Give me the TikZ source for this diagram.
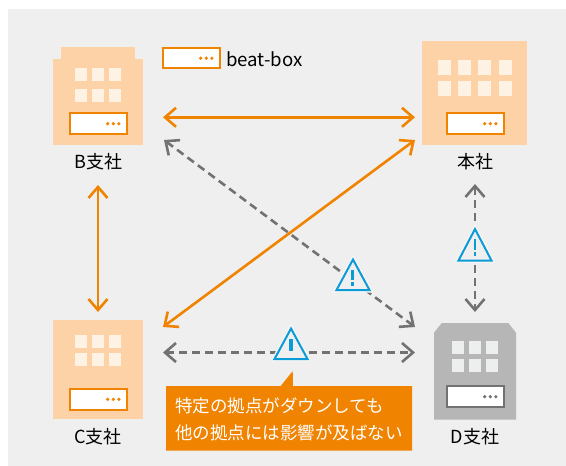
\documentclass[tikz,border=0pt]{standalone}
\usepackage{fontspec}
\setmainfont{Noto Sans CJK JP}
\usetikzlibrary{arrows.meta,calc}
\definecolor{bgc}{HTML}{EFEFEF}
\definecolor{org}{HTML}{F08300}
\definecolor{peach}{HTML}{FDD2A6}
\definecolor{winp}{HTML}{FEF2E5}
\definecolor{gbld}{HTML}{B5B6B5}
\definecolor{wing}{HTML}{EDEFEE}
\definecolor{dgray}{HTML}{727272}
\definecolor{blu}{HTML}{0B9BD7}
\tikzset{
  x=1pt,y=-1pt,
  bld/.style={fill=#1,draw=none,inner sep=0pt,outer sep=0pt},
  lbl/.style={font=\fontsize{18}{20}\selectfont,text=black,inner sep=0pt},
  srv/.style={draw=#1,fill=white,line width=2pt,minimum width=57pt,minimum height=20.5pt,inner sep=0pt},
  solidarrow/.style={draw=org,line width=2.6pt,{Straight Barb[length=11pt,width=19pt]}-{Straight Barb[length=11pt,width=19pt]}},
  dasharrow/.style={draw=dgray,line width=2.6pt,dash pattern=on 8pt off 5pt,{Straight Barb[length=11pt,width=19pt]}-{Straight Barb[length=11pt,width=19pt]}},
  warn/.style={draw=blu,fill=bgc,line width=2pt,line join=miter},
  halo/.style={draw=bgc!60!white,line width=5pt,line join=miter},
  calltext/.style={anchor=west,inner sep=0pt,text=white,font=\fontsize{17.5}{20}\selectfont},
}
\newcommand{\srvbox}[4]{% name, cx, cy, colour
  \node[srv=#4] (#1) at (#2,#3) {};
  \foreach \dx in {-5.6,0,5.6} \fill[#4] ($(#1.center)+(15.3+\dx,0)$) circle (1.8pt);
}
\newcommand{\winrow}[5]{% colour, y top, height, width, x list
  \foreach \wx in {#5} \fill[#1] (\wx,#2) rectangle ++(#4,#3);
}
\newcommand{\warnsign}[5]{% name, apex x, apex y, half width, height
  \coordinate (#1) at (#2,#3);
  \path[halo] (#2,#3) -- ++(-#4,#5) -- ++(2*#4,0) -- cycle;
  \path[warn] (#2,#3) -- ++(-#4,#5) -- ++(2*#4,0) -- cycle;
}
\begin{document}
\begin{tikzpicture}
\useasboundingbox (0,0) rectangle (566,466);
\fill[bgc] (8,9) rectangle (566,466);

% B
\fill[peach] (61,46.7) rectangle (135,60);
\node[bld=peach,minimum width=90pt,minimum height=86pt] (B) at (98,102) {};
\winrow{winp}{68}{13}{12}{75,92,109}
\winrow{winp}{89}{13}{12}{75,92,109}
\srvbox{boxB}{98}{123.7}{org}
\node[lbl] (labB) at (98.5,162) {B支社};

% A (headquarters)
\node[bld=peach,minimum width=105pt,minimum height=104pt] (A) at (474.5,93) {};
\winrow{winp}{60}{15}{13}{438,458,478,499}
\winrow{winp}{81}{15}{13}{438,458,478,499}
\srvbox{boxA}{475}{123.7}{org}
\node[lbl] (labA) at (475,162) {本社};

% C
\node[bld=peach,minimum width=90pt,minimum height=99pt] (C) at (98,369.5) {};
\winrow{winp}{335}{13}{12}{75,92,109}
\winrow{winp}{353}{13}{12}{75,92,109}
\srvbox{boxC}{98}{399.3}{org}
\node[lbl] (labC) at (98,437) {C支社};

% D
\fill[gbld] (441.7,323) -- (508.3,323) -- (516,332.7) -- (516,419.7) -- (434,419.7) -- (434,332.7) -- cycle;
\coordinate (D) at (475,371);
\winrow{wing}{341}{13}{12}{452,469,486}
\winrow{wing}{359}{13}{12}{452,469,486}
\srvbox{boxD}{475}{396.7}{dgray}
\node[lbl] (labD) at (475,437) {D支社};

% Legend
\srvbox{boxL}{191}{58.2}{org}
\node[lbl,anchor=west,font=\fontsize{18.6}{20}\selectfont] (labL) at (226,59) {beat-box};

% Connector ends
\coordinate (pBe) at (163,117.3);
\coordinate (pAw) at (415,117.3);
\coordinate (pBs) at (98,185);
\coordinate (pCn) at (98,312);
\coordinate (pCne) at (163,327);
\coordinate (pAsw) at (415,140);
\coordinate (pBse) at (164,140);
\coordinate (pDnw) at (415,327);
\coordinate (pCe) at (163,352.5);
\coordinate (pDw) at (415,352.5);
\coordinate (pAs) at (475,184);
\coordinate (pDn) at (475,312);

% Connectors
\draw[solidarrow] (pBe) -- (pAw);
\draw[solidarrow] (pBs) -- (pCn);
\draw[solidarrow] (pCne) -- (pAsw);
\draw[dasharrow] (pBse) -- (pDnw);
\draw[dasharrow] (pCe) -- (pDw);
\draw[dasharrow] (pAs) -- (pDn);

% Warning signs
\warnsign{w1}{475}{229}{16.5}{31.5}
\fill[blu] (473.6,239) rectangle (476.4,250);
\fill[blu] (473.6,252) rectangle (476.4,255.5);
\warnsign{w2}{353}{259.5}{16.5}{30.5}
\fill[blu] (351.3,270) rectangle (354.4,280);
\fill[blu] (351.3,282) rectangle (354.4,285.5);
\warnsign{w3}{291}{328.5}{16.5}{30.5}
\fill[blu] (289.4,339) rectangle (292.6,351);

% Callout
\fill[org] (166,386) -- (280.7,386) -- (292.7,371) -- (293,386) -- (412,386) -- (412,450.7) -- (166,450.7) -- cycle;
\node[calltext] (c1) at (175,406) {特定の拠点がダウンしても};
\node[calltext] (c2) at (175,432.5) {他の拠点には影響が及ばない};
\end{tikzpicture}
\end{document}
